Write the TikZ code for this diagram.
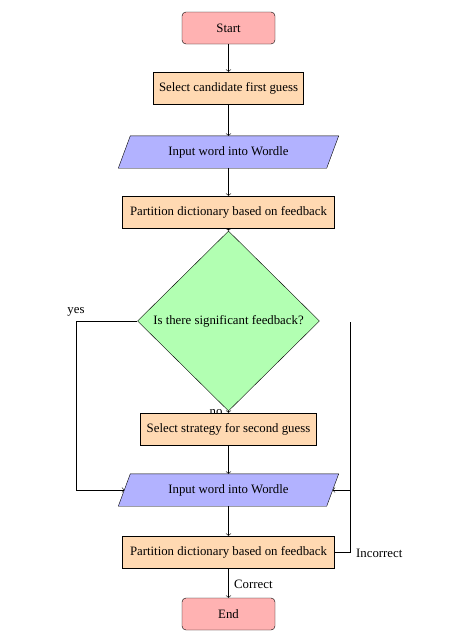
\documentclass[tikz,border=0pt]{standalone}
\usepackage{fontspec}
\setmainfont{Liberation Serif}
\usetikzlibrary{shapes.geometric,arrows.meta}
\pgfdeclarelayer{background}
\pgfsetlayers{background,main}
\begin{document}
\begin{tikzpicture}[x=1pt,y=-1pt,
  every node/.style={font=\fontsize{12.8}{15}\selectfont},
  term/.style={draw, rounded corners=4pt, fill=red!30, minimum width=93pt, minimum height=32pt, inner sep=0pt},
  proc/.style={draw, fill=orange!30, minimum height=32pt, inner sep=0pt},
  io/.style={minimum width=208pt, minimum height=32pt, inner sep=0pt},
  iofill/.style={draw=black, fill=blue!30},
  dec/.style={draw, diamond, fill=green!30, aspect=1, minimum width=182pt, minimum height=180pt, inner sep=0pt},
  arr/.style={->, >=To},
  lbl/.style={inner sep=0pt}
]
\useasboundingbox (0,0) rectangle (452,643);
\node[lbl] (no) at (216,413) {no};
\node[term] (start) at (228.5,28) {Start};
\node[proc, minimum width=150pt] (sel1) at (228.5,88) {Select candidate first guess};
\node[io] (in1) at (228.5,152) {Input word into Wordle};
\node[proc, minimum width=212pt] (part1) at (228.5,212) {Partition dictionary based on feedback};
\node[dec] (dec) at (228.5,321) {Is there significant feedback?};
\node[proc, minimum width=176pt] (sel2) at (228.5,429) {Select strategy for second guess};
\node[io] (in2) at (228.5,490) {Input word into Wordle};
\node[proc, minimum width=212pt] (part2) at (228.5,552) {Partition dictionary based on feedback};
\node[term] (end) at (228.5,614) {End};

\begin{pgfonlayer}{background}
\foreach \n in {in1,in2}{
  \draw[iofill] ([xshift=6pt]\n.north west) -- ([xshift=6pt]\n.north east)
    -- ([xshift=-6pt]\n.south east) -- ([xshift=-6pt]\n.south west) -- cycle;
}
\end{pgfonlayer}

\coordinate (yc) at (76,321);
\coordinate (ic) at (350,552);
\coordinate (itop) at (350,322);
\coordinate (imid) at (350,490);

\draw[arr] (start) -- (sel1);
\draw[arr] (sel1) -- (in1);
\draw[arr] (in1) -- (part1);
\draw[arr] (part1) -- (dec);
\draw[arr] (dec.south) -- (sel2.north);
\draw[arr] (sel2) -- (in2);
\draw[arr] (in2) -- (part2);
\draw[arr] (part2) -- (end);
\draw[arr] (dec.west) -- (yc) |- (in2.west);
\draw (part2.east) -- (ic) -- (itop);
\draw[arr] (imid) -- (in2.east);

\node[lbl] (yes) at (76,312) {yes};
\node[lbl, anchor=west] (inc) at (356,553) {Incorrect};
\node[lbl, anchor=west] (cor) at (234,584) {Correct};
\end{tikzpicture}
\end{document}
